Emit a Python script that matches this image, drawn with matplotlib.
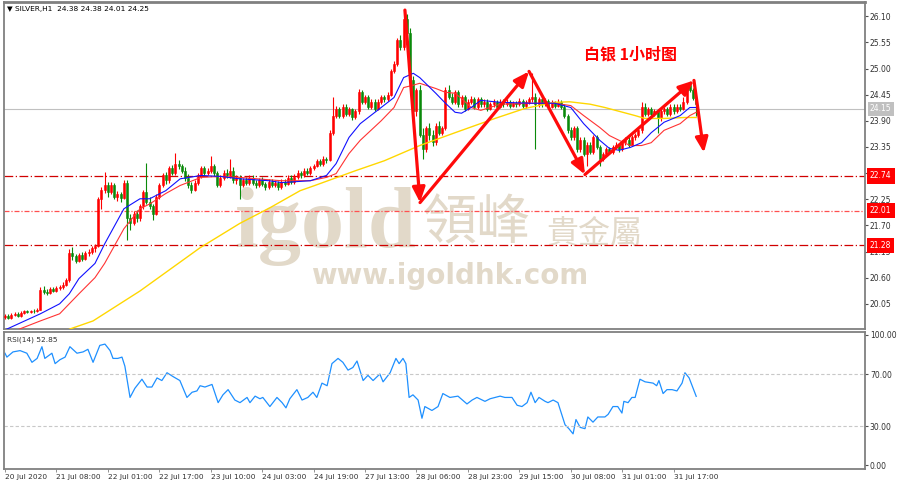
import matplotlib
matplotlib.use('Agg')
import matplotlib.pyplot as plt

# ---------------- data ----------------
header_text = "SILVER,H1  24.38 24.38 24.01 24.25"
title_text = "白银 1小时图"
rsi_label = "RSI(14) 52.85"

opens = [19.78, 19.80, 19.76, 19.82, 19.84, 19.80, 19.86, 19.90, 19.88, 19.90,
         19.89, 19.93, 20.35, 20.30, 20.28, 20.36, 20.32, 20.38, 20.40, 20.45,
         20.55, 21.12, 21.05, 20.95, 21.08, 21.00, 21.12, 21.15, 21.22, 21.27,
         22.25, 22.45, 22.55, 22.40, 22.55, 22.30, 22.35, 22.28, 22.60, 21.85,
         21.75, 21.95, 21.85, 22.10, 22.40, 22.20, 22.10, 21.95, 22.30, 22.55,
         22.75, 22.65, 22.90, 22.80, 23.00, 22.95, 22.85, 22.70, 22.55, 22.45,
         22.60, 22.75, 22.90, 22.80, 22.85, 22.95, 22.80, 22.55, 22.70, 22.80,
         22.75, 22.85, 22.65, 22.70, 22.55, 22.65, 22.60, 22.70, 22.60, 22.55,
         22.65, 22.58, 22.50, 22.62, 22.55, 22.60, 22.50, 22.62, 22.58, 22.70,
         22.62, 22.72, 22.80, 22.76, 22.85, 22.80, 22.90, 22.95, 23.05, 23.00,
         23.10, 23.08, 23.65, 24.00, 24.15, 24.00, 24.20, 24.05, 24.15, 23.98,
         24.10, 24.50, 24.30, 24.40, 24.20, 24.30, 24.15, 24.30, 24.40, 24.35,
         24.45, 24.95, 25.10, 25.60, 25.45, 26.05, 25.75, 24.75, 24.10, 24.55,
         23.60, 23.30, 23.75, 23.60, 23.45, 23.80, 23.65, 23.75, 24.55, 24.40,
         24.30, 24.50, 24.25, 24.40, 24.15, 24.30, 24.35, 24.20, 24.35, 24.25,
         24.30, 24.15, 24.25, 24.30, 24.20, 24.30, 24.25, 24.30, 24.22, 24.28,
         24.25, 24.32, 24.22, 24.30, 24.35, 24.40, 24.25, 24.35, 24.25, 24.32,
         24.20, 24.28, 24.22, 24.30, 24.20, 24.00, 23.70, 23.55, 23.75, 23.30,
         23.50, 23.20, 23.40, 23.25, 23.55, 23.35, 23.10, 23.20, 23.30, 23.25,
         23.35, 23.40, 23.30, 23.45, 23.50, 23.40, 23.55, 23.60, 23.70, 24.20,
         24.05, 24.15, 24.05, 24.10, 23.95, 24.10, 24.15, 24.05, 24.20, 24.10,
         24.20, 24.15, 24.30, 24.65, 24.55, 24.38]
highs = [19.83, 19.83, 19.85, 19.88, 19.87, 19.89, 19.93, 19.93, 19.93, 19.94,
         19.96, 20.40, 20.42, 20.36, 20.40, 20.41, 20.42, 20.45, 20.50, 20.60,
         21.20, 21.25, 21.10, 21.12, 21.14, 21.16, 21.20, 21.26, 21.30, 22.30,
         22.50, 22.82, 22.62, 22.62, 22.60, 22.42, 22.40, 22.65, 22.65, 21.95,
         22.00, 22.02, 22.15, 22.45, 23.02, 22.30, 22.15, 22.35, 22.60, 22.80,
         22.82, 22.95, 22.98, 23.23, 23.08, 23.00, 22.92, 22.78, 22.62, 22.66,
         22.80, 22.95, 22.96, 22.90, 23.15, 23.00, 22.85, 22.75, 22.86, 22.88,
         23.10, 22.92, 22.76, 22.75, 22.70, 22.72, 22.76, 22.75, 22.66, 22.70,
         22.72, 22.62, 22.68, 22.67, 22.66, 22.64, 22.68, 22.68, 22.76, 22.75,
         22.78, 22.86, 22.85, 22.90, 22.90, 22.95, 23.00, 23.10, 23.10, 23.15,
         23.14, 23.70, 24.40, 24.22, 24.20, 24.26, 24.25, 24.20, 24.18, 24.15,
         24.56, 24.55, 24.45, 24.44, 24.35, 24.35, 24.35, 24.45, 24.45, 24.50,
         25.00, 25.15, 25.65, 25.70, 26.25, 26.15, 25.85, 24.85, 24.60, 24.65,
         23.75, 23.80, 23.85, 23.70, 23.85, 23.90, 23.80, 24.62, 24.65, 24.48,
         24.55, 24.55, 24.45, 24.45, 24.35, 24.42, 24.40, 24.40, 24.40, 24.35,
         24.35, 24.30, 24.35, 24.34, 24.35, 24.36, 24.35, 24.34, 24.32, 24.32,
         24.37, 24.36, 24.34, 24.40, 24.90, 24.48, 24.40, 24.40, 24.37, 24.36,
         24.33, 24.32, 24.35, 24.34, 24.25, 24.05, 23.78, 23.80, 23.80, 23.55,
         23.55, 23.45, 23.45, 23.60, 23.60, 23.40, 23.25, 23.35, 23.35, 23.40,
         23.45, 23.44, 23.50, 23.55, 23.55, 23.60, 23.65, 23.75, 24.30, 24.28,
         24.20, 24.20, 24.15, 24.14, 24.15, 24.20, 24.20, 24.25, 24.25, 24.25,
         24.25, 24.40, 24.70, 24.72, 24.60, 24.38]
lows = [19.74, 19.73, 19.74, 19.79, 19.77, 19.78, 19.84, 19.85, 19.85, 19.86,
        19.87, 19.91, 20.26, 20.24, 20.26, 20.29, 20.30, 20.35, 20.37, 20.42,
        20.50, 20.98, 20.90, 20.92, 20.96, 20.97, 21.06, 21.10, 21.15, 21.25,
        22.05, 22.38, 22.30, 22.35, 22.25, 22.22, 22.20, 22.25, 21.40, 21.60,
        21.70, 21.78, 21.80, 22.05, 22.15, 22.05, 21.82, 21.92, 22.25, 22.50,
        22.58, 22.60, 22.75, 22.76, 22.88, 22.80, 22.64, 22.48, 22.38, 22.42,
        22.56, 22.70, 22.74, 22.75, 22.80, 22.74, 22.50, 22.50, 22.65, 22.70,
        22.70, 22.60, 22.58, 22.25, 22.50, 22.55, 22.56, 22.55, 22.48, 22.50,
        22.53, 22.44, 22.46, 22.50, 22.50, 22.45, 22.47, 22.53, 22.55, 22.57,
        22.58, 22.68, 22.70, 22.72, 22.75, 22.77, 22.86, 22.92, 22.94, 22.96,
        23.02, 23.05, 23.60, 23.95, 23.95, 23.96, 24.00, 24.00, 23.92, 23.94,
        24.05, 24.25, 24.25, 24.15, 24.15, 24.10, 24.12, 24.26, 24.30, 24.32,
        24.42, 24.90, 25.05, 25.40, 25.40, 25.70, 24.70, 23.85, 24.00, 23.55,
        23.10, 23.25, 23.50, 23.38, 23.40, 23.60, 23.60, 23.70, 24.35, 24.25,
        24.26, 24.20, 24.20, 24.10, 24.12, 24.25, 24.15, 24.15, 24.20, 24.20,
        24.10, 24.12, 24.20, 24.15, 24.17, 24.20, 24.21, 24.18, 24.19, 24.20,
        24.22, 24.18, 24.18, 24.26, 24.30, 23.30, 24.20, 24.20, 24.22, 24.15,
        24.16, 24.18, 24.19, 24.15, 23.95, 23.65, 23.50, 23.50, 23.25, 23.25,
        23.15, 22.95, 23.20, 23.20, 23.30, 22.95, 23.05, 23.15, 23.20, 23.20,
        23.30, 23.25, 23.26, 23.40, 23.35, 23.36, 23.50, 23.55, 23.65, 24.00,
        24.00, 24.00, 24.00, 23.65, 23.90, 24.05, 24.00, 24.00, 24.05, 24.06,
        24.10, 24.12, 24.25, 24.50, 24.33, 24.01]
closes = [19.80, 19.76, 19.82, 19.84, 19.80, 19.86, 19.90, 19.88, 19.90, 19.89,
          19.93, 20.35, 20.30, 20.28, 20.36, 20.32, 20.38, 20.40, 20.45, 20.55,
          21.12, 21.05, 20.95, 21.08, 21.00, 21.12, 21.15, 21.22, 21.27, 22.25,
          22.45, 22.55, 22.40, 22.55, 22.30, 22.35, 22.28, 22.60, 21.85, 21.75,
          21.95, 21.85, 22.10, 22.40, 22.20, 22.10, 21.95, 22.30, 22.55, 22.75,
          22.65, 22.90, 22.80, 23.00, 22.95, 22.85, 22.70, 22.55, 22.45, 22.60,
          22.75, 22.90, 22.80, 22.85, 22.95, 22.80, 22.55, 22.70, 22.80, 22.75,
          22.85, 22.65, 22.70, 22.55, 22.65, 22.60, 22.70, 22.60, 22.55, 22.65,
          22.58, 22.50, 22.62, 22.55, 22.60, 22.50, 22.62, 22.58, 22.70, 22.62,
          22.72, 22.80, 22.76, 22.85, 22.80, 22.90, 22.95, 23.05, 23.00, 23.10,
          23.08, 23.65, 24.00, 24.15, 24.00, 24.20, 24.05, 24.15, 23.98, 24.10,
          24.50, 24.30, 24.40, 24.20, 24.30, 24.15, 24.30, 24.40, 24.35, 24.45,
          24.95, 25.10, 25.60, 25.45, 26.05, 25.75, 24.75, 24.10, 24.55, 23.60,
          23.30, 23.75, 23.60, 23.45, 23.80, 23.65, 23.75, 24.55, 24.40, 24.30,
          24.50, 24.25, 24.40, 24.15, 24.30, 24.35, 24.20, 24.35, 24.25, 24.30,
          24.15, 24.25, 24.30, 24.20, 24.30, 24.25, 24.30, 24.22, 24.28, 24.25,
          24.32, 24.22, 24.30, 24.35, 24.40, 24.25, 24.35, 24.25, 24.32, 24.20,
          24.28, 24.22, 24.30, 24.20, 24.00, 23.70, 23.55, 23.75, 23.30, 23.50,
          23.20, 23.40, 23.25, 23.55, 23.35, 23.10, 23.20, 23.30, 23.25, 23.35,
          23.40, 23.30, 23.45, 23.50, 23.40, 23.55, 23.60, 23.70, 24.20, 24.05,
          24.15, 24.05, 24.10, 23.95, 24.10, 24.15, 24.05, 24.20, 24.10, 24.20,
          24.15, 24.30, 24.65, 24.55, 24.38, 24.25]

# moving averages (bar index, price)
ma_fast_bars = [0, 11, 17, 20, 23, 28, 31, 37, 42, 45, 50, 54.5, 61, 67, 73, 82, 86, 95,
                100, 103, 107, 110.5, 117, 121, 124, 127, 129, 134, 137, 140, 142, 145,
                148, 154, 163.5, 171, 176, 180, 185, 188, 191, 194.5, 198, 201, 205,
                210, 213, 215]
ma_fast_vals = [19.50, 19.84, 20.05, 20.26, 20.58, 20.90, 21.31, 22.05, 22.26, 22.26,
                22.43, 22.68, 22.75, 22.73, 22.68, 22.64, 22.60, 22.64, 22.75, 23.00,
                23.55, 23.84, 24.18, 24.39, 24.81, 24.90, 24.81, 24.48, 24.27, 24.08,
                24.06, 24.18, 24.33, 24.29, 24.27, 24.27, 24.18, 23.84, 23.49, 23.32,
                23.28, 23.34, 23.44, 23.65, 23.87, 24.01, 24.18, 24.18]
ma_mid_bars = ma_fast_bars
ma_mid_vals = [19.40, 19.69, 19.84, 20.05, 20.26, 20.60, 20.90, 21.63, 22.05, 22.15,
               22.37, 22.54, 22.71, 22.73, 22.71, 22.66, 22.64, 22.64, 22.71, 22.79,
               23.21, 23.49, 23.90, 24.18, 24.60, 24.65, 24.69, 24.58, 24.50, 24.48,
               24.37, 24.18, 24.12, 24.25, 24.27, 24.27, 24.22, 24.01, 23.76, 23.59,
               23.49, 23.38, 23.38, 23.44, 23.70, 23.84, 24.01, 24.08]
ma_slow_bars = [17, 20.2, 27.4, 42, 60.7, 73, 82.4, 91.8, 96.4, 109, 118, 129, 140,
                152.4, 161.7, 171, 175.7, 182, 186.6, 196, 199, 205, 211.5, 215]
ma_slow_vals = [19.40, 19.52, 19.69, 20.32, 21.23, 21.74, 22.07, 22.43, 22.54, 22.85,
                23.06, 23.38, 23.65, 23.95, 24.16, 24.29, 24.30, 24.25, 24.18, 24.01,
                23.95, 23.95, 23.97, 23.97]

# RSI(14) (bar index, value)
rsi_bars = [0, 0.6, 2.5, 4.7, 6.8, 8.4, 10, 11.5, 12.4, 14.6, 15.6, 17.1, 18.7, 20.2,
            22.4, 24.3, 25.8, 27.4, 29.5, 31.1, 32.7, 33.6, 35.1, 36.4, 37.3, 38.9,
            40.4, 42.6, 44.2, 45.7, 47.3, 48.8, 50.4, 52.3, 54.4, 56.6, 58.2, 59.7,
            60.7, 62.2, 64.4, 66.3, 67.8, 69.4, 71.5, 73.1, 75.3, 76.2, 77.8, 79.3,
            80.2, 82.4, 84.6, 86.2, 87.4, 88.6, 90.8, 92.4, 94.2, 95.8, 97, 98.6,
            100.2, 101.7, 103.6, 105.1, 106.7, 108.2, 109.5, 111.4, 112.9, 114.5,
            116.6, 117.6, 119.8, 121.6, 122.6, 123.8, 124.7, 125.7, 126.9, 128.5,
            129.7, 130.6, 132.8, 134.7, 136.2, 138.4, 140.9, 143.7, 145.3, 146.8,
            149.3, 150.9, 152.4, 154, 155.5, 157.7, 159.3, 160.8, 162.4, 163.6,
            164.9, 166.1, 168, 168.9, 170.5, 172, 174.2, 175.4, 176.7, 177.6, 178.9,
            180.4, 181.3, 182.9, 184.4, 186.6, 187.6, 189.1, 190.6, 191.9, 192.5,
            193.8, 195, 196, 197.5, 199.1, 201.6, 202.7, 203.4, 204.7, 205.9, 207.5,
            209, 210.6, 211.5, 212.8, 215]
rsi_vals = [86, 83, 87, 88, 86, 79, 82, 91, 82, 86, 78, 81, 83, 91, 86, 87, 89, 79,
            92, 93, 88, 82, 82, 83, 76, 52, 59, 66, 60, 60, 67, 65, 71, 68, 65, 52,
            56, 57, 61, 60, 62, 48, 54, 58, 50, 48, 52, 48, 53, 51, 52, 45, 52, 48,
            44, 51, 58, 50, 52, 56, 52, 63, 61, 78, 82, 79, 73, 75, 80, 65, 69, 65,
            70, 64, 71, 82, 78, 82, 78, 52, 54, 50, 36, 45, 42, 45, 55, 52, 53, 47,
            50, 52, 49, 51, 52, 53, 52, 52, 46, 45, 48, 56, 48, 52, 49, 48, 50, 48,
            31, 28, 24, 35, 29, 28, 37, 33, 37, 37, 39, 45, 45, 40, 49, 48, 52, 52,
            66, 64, 63, 61, 65, 55, 58, 58, 57, 63, 71, 67, 52.85]

time_labels = ['20 Jul 2020', '21 Jul 08:00', '22 Jul 01:00', '22 Jul 17:00',
               '23 Jul 10:00', '24 Jul 03:00', '24 Jul 19:00', '27 Jul 13:00',
               '28 Jul 06:00', '28 Jul 23:00', '29 Jul 15:00', '30 Jul 08:00',
               '31 Jul 01:00', '31 Jul 17:00']
time_label_bars = [0, 16, 32, 48, 64, 80, 96, 112, 128, 144, 160, 176, 192, 208]
price_ticks = [26.10, 25.55, 25.00, 24.45, 23.90, 23.35, 22.80, 22.25, 21.70,
               21.15, 20.60, 20.05]
rsi_ticks = [100, 70, 30, 0]
rsi_levels = [70, 30]
levels = [22.74, 22.01, 21.28]
bid_price = 24.15
arrow_bars = [124.4, 129.1, 163.0, 180.4, 214.3, 217.4]
arrow_prices = [26.23, 22.18, 24.94, 22.77, 24.75, 23.23]

# ---------------- drawing ----------------
W, H = 900, 487
fig = plt.figure(figsize=(W / 100, H / 100), dpi=100)
fig.patch.set_facecolor('white')

ax = fig.add_axes([4 / W, 1 - 329 / H, 861 / W, 327 / H])
ax2 = fig.add_axes([4 / W, 1 - 469 / H, 861 / W, 137 / H])

UP, DN = '#ff0000', '#0a8a0a'
n = len(closes)
xs = list(range(n))
cols = [UP if c >= o else DN for o, c in zip(opens, closes)]
ax.vlines(xs, lows, highs, colors=cols, linewidth=0.8, zorder=3)
bottoms = [min(o, c) for o, c in zip(opens, closes)]
heights = [max(abs(c - o), 0.012) for o, c in zip(opens, closes)]
ax.bar(xs, heights, bottom=bottoms, width=0.62, color=cols, edgecolor=cols,
       linewidth=0.4, zorder=4)

ax.plot(ma_slow_bars, ma_slow_vals, color='#ffd700', lw=1.0, zorder=5)
ax.plot(ma_mid_bars, ma_mid_vals, color='#ff3333', lw=0.8, zorder=5)
ax.plot(ma_fast_bars, ma_fast_vals, color='#1010ff', lw=0.8, zorder=6)

# horizontal levels and their price boxes on the right scale
label_x = 1.0058   # just right of the tick marks, same place as the tick labels
level_styles = [('#d00000', (0, (7, 2, 1, 2))), ('#ff5050', (0, (4, 1.5, 1, 1.5))),
                ('#d00000', (0, (7, 2, 1, 2)))]
for lv, (c, ls) in zip(levels, level_styles):
    ax.axhline(lv, color=c, lw=0.9, linestyle=ls, zorder=2)
    ax.text(label_x, lv, f'{lv:.2f}', transform=ax.get_yaxis_transform(),
            ha='left', va='center', fontsize=5.5, color='white', zorder=10,
            bbox=dict(boxstyle='square,pad=0.4', fc='#ff0000', ec='none'),
            clip_on=False)
ax.axhline(bid_price, color='#c0c0c0', lw=0.8, zorder=1)
ax.text(label_x, bid_price, f'{bid_price:.2f}', transform=ax.get_yaxis_transform(),
        ha='left', va='center', fontsize=5.5, color='white', zorder=10,
        bbox=dict(boxstyle='square,pad=0.3', fc='#c0c0c0', ec='none'), clip_on=False)

# arrows
for k in range(len(arrow_bars) - 1):
    ax.annotate('', xy=(arrow_bars[k + 1], arrow_prices[k + 1]),
                xytext=(arrow_bars[k], arrow_prices[k]),
                arrowprops=dict(arrowstyle='-|>,head_length=0.9,head_width=0.38',
                                color='#ff0a0a', lw=2.3, shrinkA=0, shrinkB=0),
                zorder=8, annotation_clip=False)

# watermark
wm = '#e2d9c9'
ax.text(0.373, 0.252, 'igold', transform=ax.transAxes, ha='center', va='baseline',
        fontsize=62, fontweight='bold', family='Liberation Serif', color=wm, zorder=0.5)
ax.text(0.549, 0.322, '領峰', transform=ax.transAxes, ha='center', va='center',
        fontsize=39, family=['Noto Sans CJK TC'], color=wm, zorder=0.5)
ax.text(0.686, 0.29, '貴金屬', transform=ax.transAxes, ha='center', va='center',
        fontsize=23, family=['Noto Sans CJK TC'], color=wm, zorder=0.5)
ax.text(0.518, 0.162, 'www.igoldhk.com', transform=ax.transAxes, ha='center',
        va='center', fontsize=20, fontweight='bold', family='DejaVu Sans',
        color=wm, zorder=0.5)

# title and header
ax.text(0.674, 0.84, title_text, transform=ax.transAxes, ha='left', va='center',
        fontsize=11.5, fontweight='bold', family=['Noto Sans CJK SC', 'DejaVu Sans'],
        color='#ff0000', zorder=9)
ax.text(0.004, 0.979, '▼ ' + header_text, transform=ax.transAxes, ha='left',
        va='center', fontsize=5.3, color='black', zorder=9)

# axes formatting: main
xmin, xmax = -0.3, 267.5
ax.set_xlim(xmin, xmax)
ax.set_ylim(19.52, 26.40)
ax.yaxis.tick_right()
ax.set_yticks(price_ticks)
ax.set_yticklabels([f'{t:.2f}' for t in price_ticks])
ax.tick_params(axis='y', which='both', direction='out', length=2.5, width=0.8,
               colors='#505050', labelsize=5.5, pad=1.0, labelcolor='#303030')
ax.set_xticks([])
for s in ax.spines.values():
    s.set_color('#808080')
    s.set_linewidth(1.3)
ax.spines['top'].set_linewidth(2.0)

# RSI panel
ax2.plot(rsi_bars, rsi_vals, color='#1e90ff', lw=0.9)
for lv in rsi_levels:
    ax2.axhline(lv, color='#c8c8c8', lw=0.8, linestyle=(0, (3, 2)))
ax2.set_xlim(xmin, xmax)
ax2.set_ylim(-3.0, 102.3)
ax2.yaxis.tick_right()
ax2.set_yticks(rsi_ticks)
ax2.set_yticklabels([f'{t:.2f}' for t in rsi_ticks])
ax2.tick_params(axis='y', direction='out', length=2.5, width=0.8, colors='#505050',
                labelsize=5.5, pad=1.0, labelcolor='#303030')
ax2.set_xticks(time_label_bars)
ax2.set_xticklabels(time_labels, ha='left')
ax2.tick_params(axis='x', direction='out', length=2, width=0.6, colors='#808080',
                labelsize=5.3, pad=1.5, labelcolor='#303030')
for s in ax2.spines.values():
    s.set_color('#808080')
    s.set_linewidth(1.3)
ax2.text(0.003, 0.94, rsi_label, transform=ax2.transAxes, ha='left', va='center',
         fontsize=5.3, color='#303030')

fig.savefig('out.png', dpi=100, facecolor='white')
